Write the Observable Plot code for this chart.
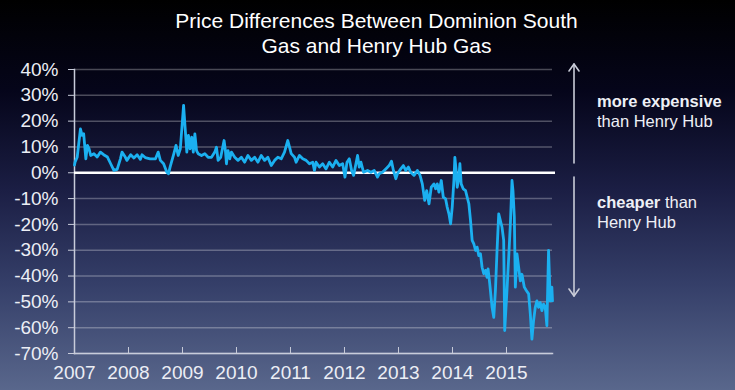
<!DOCTYPE html>
<html>
<head>
<meta charset="utf-8">
<script src="https://cdn.jsdelivr.net/npm/d3@7"></script>
<script src="https://cdn.jsdelivr.net/npm/@observablehq/plot@0.6"></script>
<style>
  html, body { margin: 0; padding: 0; }
  body {
    width: 735px; height: 390px; overflow: hidden; position: relative;
    background: linear-gradient(to bottom, #000000 0px, #05051a 90px, #1b1e44 190px, #353f69 285px, #59678c 390px);
    font-family: "Liberation Sans", Arial, sans-serif;
  }
  #title {
    height: 55px; box-sizing: border-box; padding-top: 8px; padding-left: 18px;
    color: #ffffff; font-size: 21px; line-height: 25px; text-align: center;
  }
  #chart { position: absolute; left: 0; top: 55px; }
  .note { position: absolute; left: 597px; color: #eef0f6; font-size: 16.5px; line-height: 20px; }
  .note b { font-weight: bold; }
  #arrows { position: absolute; left: 0; top: 0; }
</style>
</head>
<body>
<div id="title">Price Differences Between Dominion South<br>Gas and Henry Hub Gas</div>
<div id="chart"></div>
<svg id="arrows" width="735" height="390">
  <g stroke="#c9ccd8" stroke-width="1.6" fill="none" stroke-linecap="round" stroke-linejoin="round">
    <line x1="574" y1="64" x2="574" y2="163"></line>
    <polyline points="569,71 574,64 579,71"></polyline>
    <line x1="574" y1="177" x2="574" y2="296"></line>
    <polyline points="569,289 574,296 579,289"></polyline>
  </g>
</svg>
<div class="note" style="top:91px"><b>more expensive</b><br>than Henry Hub</div>
<div class="note" style="top:192px"><b>cheaper</b> than<br>Henry Hub</div>
<script>
// Dates as decimal years, values in percent
const years = [
  2007.00, 2007.01, 2007.05, 2007.11, 2007.14, 2007.17, 2007.21, 2007.24, 2007.27, 2007.30,
  2007.36, 2007.42, 2007.48, 2007.54, 2007.61, 2007.67, 2007.70, 2007.73, 2007.79, 2007.85,
  2007.88, 2007.94, 2007.97, 2008.04, 2008.10, 2008.16, 2008.22, 2008.25, 2008.31, 2008.40,
  2008.50, 2008.55, 2008.59, 2008.65, 2008.71, 2008.74, 2008.77, 2008.84, 2008.88, 2008.92,
  2008.96, 2009.02, 2009.05, 2009.08, 2009.11, 2009.14, 2009.17, 2009.20,
  2009.229, 2009.260, 2009.290, 2009.352, 2009.413, 2009.474, 2009.537, 2009.598, 2009.629, 2009.659,
  2009.708, 2009.770, 2009.795, 2009.814, 2009.843, 2009.875, 2009.906, 2009.967, 2010.028, 2010.090,
  2010.151, 2010.212, 2010.275, 2010.336, 2010.397, 2010.459, 2010.520, 2010.581, 2010.644, 2010.705,
  2010.766, 2010.828, 2010.889, 2010.950, 2010.982, 2011.013, 2011.074, 2011.105, 2011.166, 2011.227,
  2011.290, 2011.351, 2011.412, 2011.443, 2011.474,
  2011.535, 2011.596, 2011.658, 2011.720, 2011.781, 2011.843, 2011.904, 2011.966, 2012.009, 2012.046,
  2012.089, 2012.132, 2012.169, 2012.212, 2012.242, 2012.273, 2012.304, 2012.353, 2012.427, 2012.489,
  2012.550, 2012.611, 2012.642, 2012.703, 2012.765, 2012.827, 2012.870, 2012.906, 2012.950, 2012.980,
  2013.042, 2013.090, 2013.134, 2013.183, 2013.226, 2013.288, 2013.349, 2013.399, 2013.441, 2013.485,
  2013.522, 2013.565, 2013.607,
  2013.657, 2013.688, 2013.718, 2013.749, 2013.792, 2013.829, 2013.872, 2013.902, 2013.934, 2013.965,
  2013.995, 2014.026, 2014.044, 2014.069, 2014.087, 2014.118, 2014.137, 2014.161, 2014.198, 2014.242,
  2014.271, 2014.303, 2014.334, 2014.364, 2014.395, 2014.427, 2014.456, 2014.487, 2014.518, 2014.548,
  2014.579, 2014.611, 2014.640, 2014.659, 2014.690, 2014.733, 2014.764, 2014.795, 2014.825, 2014.856,
  2014.887, 2014.917, 2014.948, 2014.967, 2015.009, 2015.041, 2015.072, 2015.102, 2015.120, 2015.145,
  2015.164, 2015.194, 2015.225, 2015.256, 2015.286, 2015.330, 2015.367, 2015.410, 2015.441, 2015.471,
  2015.502, 2015.533, 2015.563, 2015.594, 2015.625, 2015.656, 2015.687, 2015.718, 2015.748, 2015.779,
  2015.810, 2015.840, 2015.852
];
const priceDiff = [
  3.0, 4.1, 6.0, 17.0, 14.5, 15.1, 5.4, 10.6, 9.3, 6.7,
  7.4, 6.1, 8.0, 7.0, 6.1, 3.5, 2.2, 0.9, 1.3, 5.4,
  8.0, 6.1, 4.8, 7.0, 5.7, 7.0, 5.2, 7.0, 5.9, 5.4,
  5.4, 8.0, 4.8, 3.5, 0.2, -0.4, 2.2, 7.4, 10.6, 6.7,
  9.3, 26.1, 17.0, 8.0, 14.5, 9.3, 13.8, 8.0,
  15.1, 8.6, 7.4, 6.7, 7.4, 6.0, 6.0, 8.0, 9.9, 4.8,
  6.0, 12.5, 8.6, 3.5, 8.6, 5.4, 8.0, 6.0, 4.8, 6.0,
  4.1, 6.7, 4.8, 6.0, 4.1, 6.7, 4.8, 6.0, 2.8, 4.8,
  6.0, 5.4, 8.0, 12.5, 9.9, 7.4, 6.0, 4.1, 6.7, 5.4,
  4.8, 3.5, 4.1, 0.9, 4.1,
  2.2, 3.5, 1.5, 4.1, 2.2, 4.8, 2.8, 3.5, -1.7, 4.1,
  5.4, 0.9, -1.0, 3.5, 6.7, 2.2, 4.1, 0.2, 0.9, 0.2,
  0.9, -1.7, -0.4, 0.2, 1.5, 2.8, 4.5, 0.9, -2.3, -0.4,
  1.5, 2.8, 0.9, 2.2, 0.2, -1.0, 0.9, -1.0, -4.3, -10.7,
  -6.9, -12.0, -5.6,
  -4.3, -6.2, -4.3, -7.5, -3.0, -9.4, -10.1, -13.3, -15.9, -19.8,
  -13.3, -3.0, 6.0, 0.6, -5.6, -1.9, 3.5, -4.3, -6.2, -6.9,
  -9.4, -12.0, -18.5, -26.2, -27.5, -30.1, -28.8, -32.1, -31.4, -36.6,
  -39.1, -37.8, -40.5, -37.2, -43.0, -52.1, -56.0, -45.6, -30.1, -15.9,
  -18.5, -21.1, -26.2, -61.1, -45.6, -32.7, -19.8, -3.0, -6.9, -17.2,
  -44.3, -31.4, -36.6, -41.9, -39.3, -44.3, -45.6, -46.9, -54.7, -64.4,
  -57.2, -52.1, -49.6, -52.1, -50.3, -53.4, -50.9, -52.1, -59.2, -30.1,
  -49.6, -44.3, -49.6
];
const yTicks = [40, 30, 20, 10, 0, -10, -20, -30, -40, -50, -60, -70];
const xTicks = [2007, 2008, 2009, 2010, 2011, 2012, 2013, 2014, 2015];

const data = years.map((t, i) => ({t, v: priceDiff[i]}));

const chart = Plot.plot({
  width: 735,
  height: 335,
  marginTop: 14,
  marginBottom: 37,
  marginLeft: 74,
  marginRight: 183,
  style: {
    background: "transparent",
    color: "#e8eaf2",
    fontFamily: "'Liberation Sans', Arial, sans-serif",
    fontSize: "19px",
    overflow: "visible"
  },
  x: {type: "linear", domain: d3.extent(years)},
  y: {domain: [-70, 40]},
  marks: [
    Plot.gridY(yTicks, {stroke: "#ffffff", strokeOpacity: 0.28, strokeWidth: 1.5}),
    Plot.frame({anchor: "left", stroke: "#c8ccda", strokeWidth: 1.5}),
    Plot.frame({anchor: "bottom", stroke: "#c8ccda", strokeWidth: 1.5}),
    Plot.axisY(yTicks, {tickFormat: d => d + "%", tickSize: 6, tickPadding: 10, stroke: "#c8ccda", fill: "#eceef5", fontSize: 19, label: null}),
    Plot.axisX(xTicks, {tickFormat: d => String(d), tickSize: -6, tickPadding: 18, stroke: "#c8ccda", fill: "#eceef5", fontSize: 19, label: null}),
    Plot.ruleY([0], {stroke: "#ffffff", strokeWidth: 2.5, insetRight: -3}),
    Plot.line(data, {x: "t", y: "v", stroke: "#1bb0f0", strokeWidth: 2.8, strokeLinejoin: "round"})
  ]
});
document.getElementById("chart").appendChild(chart);
</script>
</body>
</html>
